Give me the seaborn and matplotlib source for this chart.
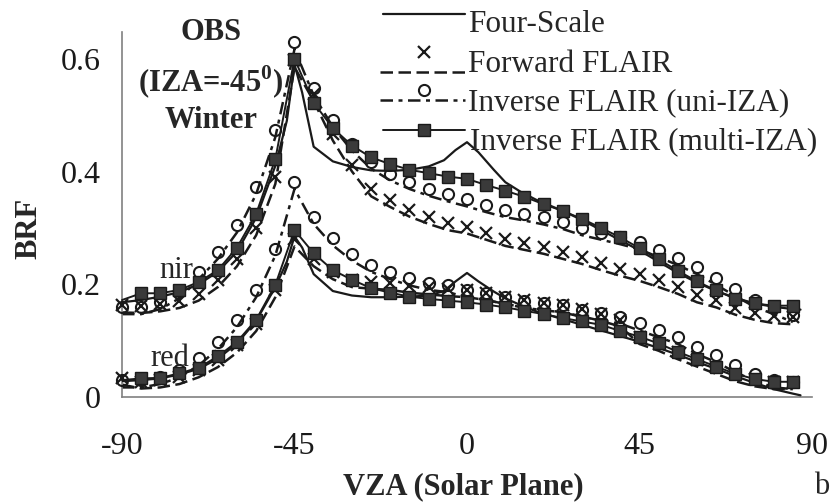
import numpy as np
import pandas as pd
import matplotlib
matplotlib.use("Agg")
import matplotlib.pyplot as plt
import matplotlib.transforms as mtransforms
from matplotlib.lines import Line2D
import seaborn as sns

# ---------------- data ----------------
vza = [-90, -85, -80, -75, -70, -65, -60, -55, -50, -45, -40, -35, -30, -25, -20, -15, -10, -5,
       0, 5, 10, 15, 20, 25, 30, 35, 40, 45, 50, 55, 60, 65, 70, 75, 80, 85]

fs_vza = [-90, -85, -80, -75, -70, -65, -60, -55, -50, -47, -45, -43, -40, -35, -30, -25, -20, -15,
          -10, -6, -3, 0, 3, 7, 10, 14, 18, 25, 30, 35, 40, 45, 50, 55, 60, 65, 70, 75, 80, 85, 87]
fs_nir = [0.168, 0.172, 0.178, 0.186, 0.200, 0.222, 0.258, 0.318, 0.410, 0.490, 0.590, 0.540, 0.444,
          0.418, 0.408, 0.402, 0.401, 0.403, 0.409, 0.420, 0.438, 0.452, 0.434, 0.403, 0.381, 0.364,
          0.350, 0.330, 0.314, 0.296, 0.278, 0.260, 0.240, 0.220, 0.203, 0.188, 0.176, 0.166, 0.160,
          0.156, 0.155]
fs_red = [0.028, 0.030, 0.033, 0.040, 0.050, 0.068, 0.095, 0.135, 0.195, 0.240, 0.285, 0.265, 0.218,
          0.188, 0.180, 0.177, 0.177, 0.178, 0.180, 0.188, 0.205, 0.220, 0.205, 0.187, 0.175, 0.163,
          0.152, 0.138, 0.128, 0.118, 0.108, 0.098, 0.087, 0.075, 0.062, 0.050, 0.037, 0.025, 0.014,
          0.006, 0.003]

fwd_nir = [0.150, 0.149, 0.152, 0.158, 0.171, 0.195, 0.232, 0.287, 0.378, 0.585, 0.525, 0.455, 0.400,
           0.356, 0.337, 0.320, 0.307, 0.296, 0.290, 0.279, 0.268, 0.261, 0.254, 0.245, 0.236, 0.225,
           0.215, 0.206, 0.195, 0.183, 0.168, 0.159, 0.146, 0.137, 0.131, 0.129]
fwd_red = [0.022, 0.015, 0.017, 0.023, 0.035, 0.053, 0.079, 0.117, 0.177, 0.267, 0.232, 0.209, 0.195,
           0.192, 0.190, 0.185, 0.182, 0.179, 0.177, 0.172, 0.165, 0.159, 0.155, 0.150, 0.143, 0.135,
           0.125, 0.094, 0.082, 0.067, 0.054, 0.041, 0.028, 0.019, 0.014, 0.014]

uni_nir = [0.147, 0.147, 0.156, 0.175, 0.209, 0.245, 0.292, 0.360, 0.461, 0.617, 0.535, 0.479, 0.437,
           0.405, 0.384, 0.369, 0.357, 0.347, 0.338, 0.328, 0.319, 0.313, 0.306, 0.298, 0.287, 0.279,
           0.271, 0.262, 0.248, 0.234, 0.218, 0.199, 0.179, 0.160, 0.147, 0.133]
uni_red = [0.017, 0.017, 0.023, 0.035, 0.056, 0.085, 0.124, 0.177, 0.251, 0.369, 0.307, 0.269, 0.242,
           0.222, 0.209, 0.198, 0.190, 0.186, 0.177, 0.172, 0.165, 0.158, 0.154, 0.150, 0.142, 0.136,
           0.130, 0.118, 0.106, 0.094, 0.076, 0.062, 0.044, 0.029, 0.017, 0.014]

multi_nir = [0.172, 0.184, 0.184, 0.190, 0.204, 0.225, 0.265, 0.325, 0.422, 0.600, 0.522, 0.477, 0.446,
             0.425, 0.413, 0.403, 0.397, 0.391, 0.387, 0.376, 0.366, 0.355, 0.342, 0.330, 0.316, 0.300,
             0.283, 0.264, 0.244, 0.224, 0.205, 0.189, 0.174, 0.166, 0.162, 0.162]
multi_red = [0.030, 0.033, 0.034, 0.042, 0.052, 0.072, 0.098, 0.137, 0.199, 0.296, 0.255, 0.225, 0.208,
             0.193, 0.185, 0.178, 0.174, 0.171, 0.168, 0.164, 0.159, 0.153, 0.147, 0.140, 0.134, 0.128,
             0.117, 0.107, 0.095, 0.080, 0.067, 0.054, 0.041, 0.032, 0.027, 0.027]

x_ticks = [-90, -45, 0, 45, 90]
y_ticks = [0, 0.2, 0.4, 0.6]
y_tick_labels = ["0", "0.2", "0.4", "0.6"]
legend_labels = ["Four-Scale", "Forward FLAIR", "Inverse FLAIR (uni-IZA)", "Inverse FLAIR (multi-IZA)"]

# ---------------- style ----------------
sns.set_theme(style="white")
plt.rcParams['font.family'] = ['Liberation Serif', 'DejaVu Serif']
plt.rcParams['mathtext.fontset'] = 'custom'
plt.rcParams['mathtext.rm'] = 'Liberation Serif'
plt.rcParams['mathtext.bf'] = 'Liberation Serif:bold'

W, H = 837, 504
fig = plt.figure(figsize=(W / 100, H / 100), dpi=100)
fig.patch.set_facecolor('white')
X0, X1, Y0, Y1 = 122, 812, 397, 31.7
ax = fig.add_axes([X0 / W, 1 - Y0 / H, (X1 - X0) / W, (Y0 - Y1) / H])
ax.set_facecolor('white')

up = mtransforms.ScaledTranslation(0, 7 / 100, fig.dpi_scale_trans)
mk_tr = ax.transData + up

FWD_LS = (0, (5, 2.2))
UNI_LS = (0, (5, 2.2, 1.6, 2.2))
SQ_FACE = '#3a3a3a'

for fwd, uni in [(fwd_nir, uni_nir), (fwd_red, uni_red)]:
    sns.lineplot(x=vza, y=fwd, ax=ax, color='k', lw=1.8, linestyle=FWD_LS, errorbar=None, zorder=2)
    sns.lineplot(x=vza, y=uni, ax=ax, color='k', lw=1.8, linestyle=UNI_LS, errorbar=None, zorder=2)

for fs in [fs_nir, fs_red]:
    sns.lineplot(x=fs_vza, y=fs, ax=ax, color='k', lw=1.6, errorbar=None, zorder=3)

for fwd, uni in [(fwd_nir, uni_nir), (fwd_red, uni_red)]:
    sns.lineplot(x=vza, y=uni, ax=ax, color='k', linestyle='none', marker='o', markersize=8,
                 markerfacecolor='none', markeredgecolor='k', markeredgewidth=1.5,
                 transform=mk_tr, clip_on=False, errorbar=None, zorder=4)
    sns.lineplot(x=vza, y=fwd, ax=ax, color='k', linestyle='none', marker='x', markersize=8,
                 markeredgecolor='k', markeredgewidth=1.6, transform=mk_tr, clip_on=False,
                 errorbar=None, zorder=4)

for mu in [multi_nir, multi_red]:
    sns.lineplot(x=vza, y=mu, ax=ax, color='k', lw=1.4, marker='s', markersize=8,
                 markerfacecolor=SQ_FACE, markeredgecolor='k', markeredgewidth=1.0,
                 markevery=list(range(1, len(vza))), clip_on=False, errorbar=None, zorder=5)

ax.set_xlim(-90, 90)
ax.set_ylim(0, 0.648)
ax.set_xticks(x_ticks)
ax.set_xticklabels([str(t) for t in x_ticks])
ax.set_yticks(y_ticks)
ax.set_yticklabels(y_tick_labels)
ax.set_xlabel('')
ax.set_ylabel('')
for s in ['top', 'right']:
    ax.spines[s].set_visible(False)
for s in ['left', 'bottom']:
    ax.spines[s].set_color('#808080')
    ax.spines[s].set_linewidth(1.2)
ax.tick_params(axis='both', direction='out', length=7.5, width=1.0, color='#808080',
               labelsize=23, labelcolor='k')
ax.tick_params(axis='y', pad=8)
ax.tick_params(axis='x', pad=18)
ax.grid(False)


def fx(px):
    return px / W


def fy(py):
    return 1 - py / H


# axis titles and annotations
fig.text(fx(29), fy(228), 'BRF', rotation=90, fontsize=22, fontweight='bold', ha='center', va='center')
fig.text(fx(463), fy(487), 'VZA (Solar Plane)', fontsize=22, fontweight='bold', ha='center', va='center')
fig.text(fx(822), fy(487), 'b', fontsize=22, ha='center', va='center')
fig.text(fx(211), fy(33), 'OBS', fontsize=22, fontweight='bold', ha='center', va='center')
fig.text(fx(211), fy(82), r'(IZA=-45$^{\mathbf{0}}$)', fontsize=22, fontweight='bold', ha='center', va='center')
fig.text(fx(211), fy(120), 'Winter', fontsize=22, fontweight='bold', ha='center', va='center')
fig.text(fx(176), fy(270), 'nir', fontsize=22, ha='center', va='center')
fig.text(fx(170), fy(358), 'red', fontsize=22, ha='center', va='center')

# manual legend (replicates the offset layout of the original)
LFS = 22.5
fig.add_artist(Line2D([fx(383), fx(465)], [fy(14), fy(14)], transform=fig.transFigure, color='k', lw=1.6))
fig.text(fx(468), fy(25), legend_labels[0], fontsize=LFS, ha='left', va='center')

fig.add_artist(Line2D([fx(380), fx(465)], [fy(72), fy(72)], transform=fig.transFigure, color='k', lw=1.8,
                      linestyle=FWD_LS))
fig.add_artist(Line2D([fx(424)], [fy(52)], transform=fig.transFigure, color='k', marker='x', markersize=8,
                      markeredgecolor='k', markeredgewidth=1.6, linestyle='none'))
fig.text(fx(468), fy(65), legend_labels[1], fontsize=LFS, ha='left', va='center')

fig.add_artist(Line2D([fx(380), fx(465)], [fy(100), fy(100)], transform=fig.transFigure, color='k', lw=1.8,
                      linestyle=UNI_LS))
fig.add_artist(Line2D([fx(424)], [fy(90)], transform=fig.transFigure, color='k', marker='o', markersize=8,
                      markerfacecolor='none', markeredgecolor='k', markeredgewidth=1.5, linestyle='none'))
fig.text(fx(468), fy(103), legend_labels[2], fontsize=LFS, ha='left', va='center')

fig.add_artist(Line2D([fx(383), fx(465)], [fy(130), fy(130)], transform=fig.transFigure, color='k', lw=1.4))
fig.add_artist(Line2D([fx(424)], [fy(130)], transform=fig.transFigure, color='k', marker='s', markersize=8,
                      markerfacecolor=SQ_FACE, markeredgecolor='k', markeredgewidth=1.0, linestyle='none'))
fig.text(fx(470), fy(142), legend_labels[3], fontsize=LFS, ha='left', va='center')

fig.savefig('out.png', dpi=100, facecolor='white')
